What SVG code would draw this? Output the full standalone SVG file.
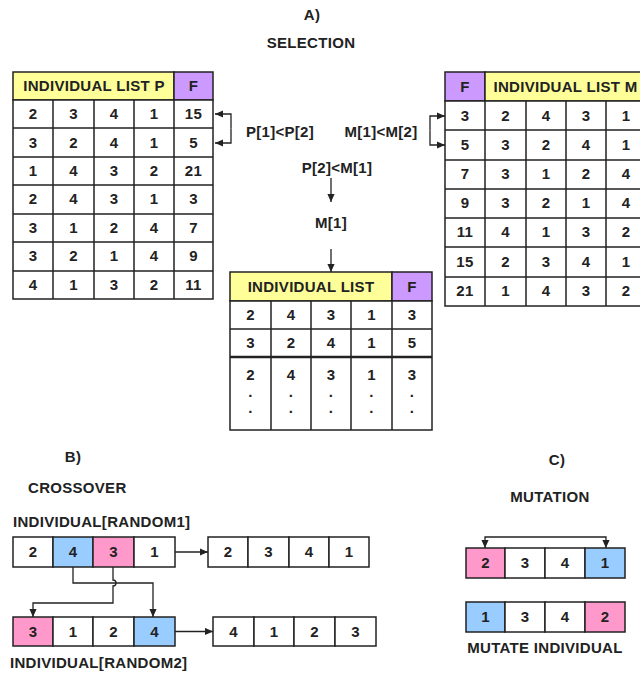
<svg xmlns="http://www.w3.org/2000/svg" width="640" height="673" viewBox="0 0 640 673">
<style>
text{font-family:"Liberation Sans",Arial,sans-serif;font-weight:bold;font-size:15px;fill:#222;text-anchor:middle;letter-spacing:0.3px}
.l{text-anchor:start}
.c{fill:#fff;stroke:#222;stroke-width:1.5}
.y{fill:#ffff99;stroke:#222;stroke-width:1.5}
.p{fill:#cc99ff;stroke:#222;stroke-width:1.5}
.b{fill:#99ccff;stroke:#222;stroke-width:1.5}
.k{fill:#ff99cc;stroke:#222;stroke-width:1.5}
.ln{fill:none;stroke:#222;stroke-width:1.5}
.w{fill:none;stroke:#222;stroke-width:1.3}
</style>
<defs>
<marker id="ah" viewBox="0 0 10 10" refX="10" refY="5" markerWidth="8" markerHeight="8" markerUnits="userSpaceOnUse" orient="auto-start-reverse"><path d="M0,0.5 L10,5 L0,9.5 z" fill="#222"/></marker>
</defs>
<rect width="640" height="673" fill="#fff"/>

<g id="titleA"><text x="312" y="20">A)</text><text x="311" y="48">SELECTION</text></g>

<g id="tableP">
<rect class="y" x="13" y="72" width="161" height="28"/>
<rect class="p" x="174" y="72" width="39" height="28"/>
<text x="94" y="91">INDIVIDUAL LIST P</text><text x="193.5" y="91">F</text>
<rect class="c" x="13" y="100" width="200" height="199"/>
<path class="ln" d="M53,100V299M94,100V299M134,100V299M174,100V299M13,128H213M13,157H213M13,185H213M13,214H213M13,242H213M13,271H213"/>
<g>
<text x="33" y="119">2</text><text x="73.5" y="119">3</text><text x="114" y="119">4</text><text x="154" y="119">1</text><text x="193.5" y="119">15</text>
<text x="33" y="148">3</text><text x="73.5" y="148">2</text><text x="114" y="148">4</text><text x="154" y="148">1</text><text x="193.5" y="148">5</text>
<text x="33" y="176">1</text><text x="73.5" y="176">4</text><text x="114" y="176">3</text><text x="154" y="176">2</text><text x="193.5" y="176">21</text>
<text x="33" y="204">2</text><text x="73.5" y="204">4</text><text x="114" y="204">3</text><text x="154" y="204">1</text><text x="193.5" y="204">3</text>
<text x="33" y="233">3</text><text x="73.5" y="233">1</text><text x="114" y="233">2</text><text x="154" y="233">4</text><text x="193.5" y="233">7</text>
<text x="33" y="261">3</text><text x="73.5" y="261">2</text><text x="114" y="261">1</text><text x="154" y="261">4</text><text x="193.5" y="261">9</text>
<text x="33" y="290">4</text><text x="73.5" y="290">1</text><text x="114" y="290">3</text><text x="154" y="290">2</text><text x="193.5" y="290">11</text>
</g>
</g>

<g id="tableM">
<rect class="p" x="445" y="72" width="40" height="29"/>
<rect class="y" x="485" y="72" width="161" height="29"/>
<text x="465" y="91.5">F</text><text x="565.5" y="91.5">INDIVIDUAL LIST M</text>
<rect class="c" x="445" y="101" width="201" height="205"/>
<path class="ln" d="M485,101V306M526,101V306M566,101V306M606,101V306M445,130H646M445,160H646M445,189H646M445,218H646M445,247H646M445,277H646"/>
<g>
<text x="465" y="121">3</text><text x="505.5" y="121">2</text><text x="546" y="121">4</text><text x="586" y="121">3</text><text x="626" y="121">1</text>
<text x="465" y="150">5</text><text x="505.5" y="150">3</text><text x="546" y="150">2</text><text x="586" y="150">4</text><text x="626" y="150">1</text>
<text x="465" y="179">7</text><text x="505.5" y="179">3</text><text x="546" y="179">1</text><text x="586" y="179">2</text><text x="626" y="179">4</text>
<text x="465" y="208">9</text><text x="505.5" y="208">3</text><text x="546" y="208">2</text><text x="586" y="208">1</text><text x="626" y="208">4</text>
<text x="465" y="237">11</text><text x="505.5" y="237">4</text><text x="546" y="237">1</text><text x="586" y="237">3</text><text x="626" y="237">2</text>
<text x="465" y="267">15</text><text x="505.5" y="267">2</text><text x="546" y="267">3</text><text x="586" y="267">4</text><text x="626" y="267">1</text>
<text x="465" y="296">21</text><text x="505.5" y="296">1</text><text x="546" y="296">4</text><text x="586" y="296">3</text><text x="626" y="296">2</text>
</g>
</g>

<g id="labelP12"><text x="280" y="137">P[1]&lt;P[2]</text></g>
<g id="labelM12"><text x="381" y="137">M[1]&lt;M[2]</text></g>
<g id="labelP2M1"><text x="337" y="173">P[2]&lt;M[1]</text></g>
<g id="labelM1"><text x="331" y="228">M[1]</text></g>

<g id="tableResult">
<rect class="y" x="230" y="272" width="162" height="29"/>
<rect class="p" x="392" y="272" width="40" height="29"/>
<text x="311" y="291.5">INDIVIDUAL LIST</text><text x="412" y="291.5">F</text>
<rect class="c" x="230" y="301" width="202" height="129"/>
<path class="ln" d="M271,301V430M311,301V430M351,301V430M392,301V430M230,329H432"/>
<path d="M230,357H432" fill="none" stroke="#222" stroke-width="2.5"/>
<text x="250.5" y="320">2</text><text x="291" y="320">4</text><text x="331" y="320">3</text><text x="371.5" y="320">1</text><text x="412" y="320">3</text>
<text x="250.5" y="348">3</text><text x="291" y="348">2</text><text x="331" y="348">4</text><text x="371.5" y="348">1</text><text x="412" y="348">5</text>
<text x="250.5" y="380">2</text><text x="291" y="380">4</text><text x="331" y="380">3</text><text x="371.5" y="380">1</text><text x="412" y="380">3</text>
<text x="250.5" y="397">.</text><text x="291" y="397">.</text><text x="331" y="397">.</text><text x="371.5" y="397">.</text><text x="412" y="397">.</text>
<text x="250.5" y="413">.</text><text x="291" y="413">.</text><text x="331" y="413">.</text><text x="371.5" y="413">.</text><text x="412" y="413">.</text>
</g>

<g id="titleB"><text x="73" y="462">B)</text><text class="l" x="28" y="493">CROSSOVER</text><text class="l" x="13" y="527">INDIVIDUAL[RANDOM1]</text></g>

<g id="random1">
<rect class="c" x="13" y="537" width="40" height="30"/><rect class="b" x="53" y="537" width="40" height="30"/><rect class="k" x="93" y="537" width="41" height="30"/><rect class="c" x="134" y="537" width="41" height="30"/>
<text x="33" y="557">2</text><text x="73" y="557">4</text><text x="113.5" y="557">3</text><text x="154.5" y="557">1</text>
</g>
<g id="child1">
<rect class="c" x="208" y="537" width="40" height="30"/><rect class="c" x="248" y="537" width="41" height="30"/><rect class="c" x="289" y="537" width="40" height="30"/><rect class="c" x="329" y="537" width="40" height="30"/>
<text x="228" y="557">2</text><text x="268.5" y="557">3</text><text x="309" y="557">4</text><text x="349" y="557">1</text>
</g>
<g id="random2">
<rect class="k" x="13" y="617" width="40" height="29"/><rect class="c" x="53" y="617" width="40" height="29"/><rect class="c" x="93" y="617" width="41" height="29"/><rect class="b" x="134" y="617" width="41" height="29"/>
<text x="33" y="636.5">3</text><text x="73" y="636.5">1</text><text x="113.5" y="636.5">2</text><text x="154.5" y="636.5">4</text>
</g>
<g id="child2">
<rect class="c" x="213" y="617" width="41" height="29"/><rect class="c" x="254" y="617" width="40" height="29"/><rect class="c" x="294" y="617" width="41" height="29"/><rect class="c" x="335" y="617" width="41" height="29"/>
<text x="233.5" y="636.5">4</text><text x="274" y="636.5">1</text><text x="314.5" y="636.5">2</text><text x="355.5" y="636.5">3</text>
</g>
<g id="labelRandom2"><text class="l" x="10" y="668">INDIVIDUAL[RANDOM2]</text></g>

<g id="titleC"><text x="557" y="465">C)</text><text x="550" y="502">MUTATION</text></g>
<g id="mutBefore">
<rect class="k" x="466" y="548" width="39" height="30"/><rect class="c" x="505" y="548" width="40" height="30"/><rect class="c" x="545" y="548" width="40" height="30"/><rect class="b" x="585" y="548" width="40" height="30"/>
<text x="485.5" y="568">2</text><text x="525" y="568">3</text><text x="565" y="568">4</text><text x="605" y="568">1</text>
</g>
<g id="mutAfter">
<rect class="b" x="466" y="602" width="39" height="30"/><rect class="c" x="505" y="602" width="40" height="30"/><rect class="c" x="545" y="602" width="40" height="30"/><rect class="k" x="585" y="602" width="40" height="30"/>
<text x="485.5" y="622">1</text><text x="525" y="622">3</text><text x="565" y="622">4</text><text x="605" y="622">2</text>
<text x="545" y="653">MUTATE INDIVIDUAL</text>
</g>

<g id="connectors">
<path class="w" d="M231,128.5V114H215" marker-end="url(#ah)"/>
<path class="w" d="M231,128.5V143H215" marker-end="url(#ah)"/>
<path class="w" d="M430,130.5V116H445" marker-end="url(#ah)"/>
<path class="w" d="M430,130.5V145H445" marker-end="url(#ah)"/>
<path class="w" d="M331,178V202" marker-end="url(#ah)"/>
<path class="w" d="M331,249V272" marker-end="url(#ah)"/>
<path class="w" d="M73,567V583H153V617" marker-end="url(#ah)"/>
<path class="w" d="M113,567V580A3,3 0 0 1 113,586V603H33V617" marker-end="url(#ah)"/>
<path class="w" d="M175,552H208" marker-end="url(#ah)"/>
<path class="w" d="M175,631.5H213" marker-end="url(#ah)"/>
<path class="w" d="M485,548V537H606V548" marker-start="url(#ah)" marker-end="url(#ah)"/>
</g>
</svg>
